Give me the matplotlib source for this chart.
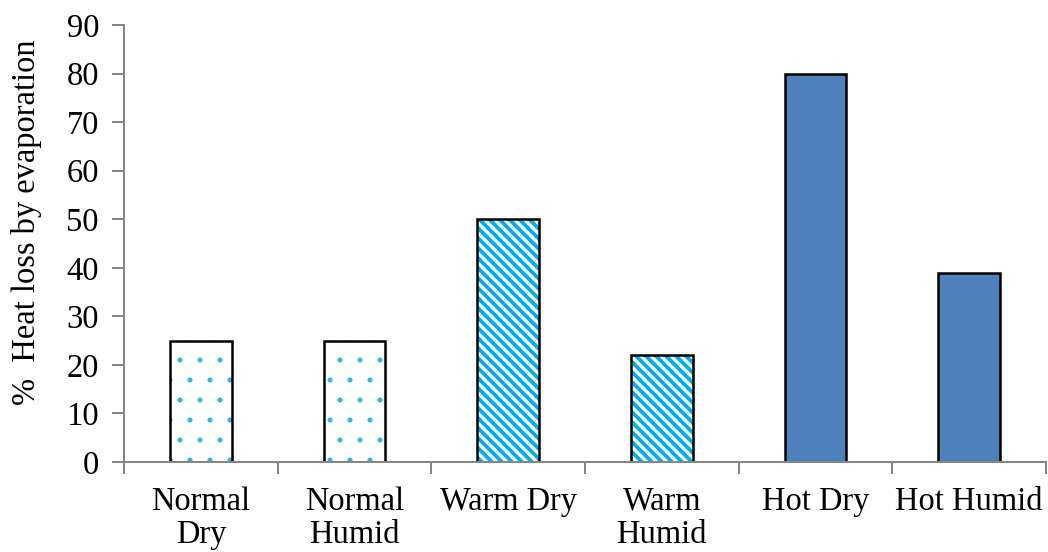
import matplotlib.pyplot as plt
import numpy as np

# values
categories = ['Normal\nDry', 'Normal\nHumid', 'Warm Dry', 'Warm\nHumid', 'Hot Dry', 'Hot Humid']
heat_loss = [25, 25, 50, 22, 80, 39]
patterns = ['.', '.', '\\\\\\\\', '\\\\\\\\', '', '']

plt.rcParams['font.family'] = ['Liberation Serif', 'DejaVu Serif']

# dpi 120 so the hatch cell matches the stripe/dot spacing of the original
fig = plt.figure(figsize=(1048 / 120, 552 / 120), dpi=120)
ax = fig.add_axes([124 / 1048, 1 - 462 / 552, (1046 - 124) / 1048, (462 - 25) / 552])

x = np.arange(len(categories))
width = 0.4
for xi, val, pat in zip(x, heat_loss, patterns):
    if pat == '.':
        with plt.rc_context({'hatch.linewidth': 0.6}):
            ax.bar(xi, val, width, color='white', edgecolor='#29B6F0', hatch=pat, linewidth=0)
    elif pat:
        with plt.rc_context({'hatch.linewidth': 2.3}):
            ax.bar(xi, val, width, color='white', edgecolor='#00AEEF', hatch=pat, linewidth=0)
    else:
        ax.bar(xi, val, width, color='#4F81BD', linewidth=0)
# black outline on top of every bar
ax.bar(x, heat_loss, width, facecolor='none', edgecolor='black', linewidth=1.5)

ax.set_xlim(-0.5, len(categories) - 0.5)
ax.set_ylim(0, 90)
ax.set_yticks(range(0, 91, 10))

# category labels in the middle, tick marks on the boundaries
ax.set_xticks(x)
ax.set_xticklabels(categories, fontsize=19.5, linespacing=1.1)
ax.tick_params(axis='x', which='major', length=0, pad=14.5)
ax.set_xticks(np.arange(-0.5, len(categories), 1), minor=True)
ax.tick_params(axis='x', which='minor', length=7, color='#868686', width=1.2)
ax.tick_params(axis='y', labelsize=19.5, length=7, color='#868686', width=1.2, pad=8)

for side in ['top', 'right']:
    ax.spines[side].set_visible(False)
for side in ['left', 'bottom']:
    ax.spines[side].set_color('#868686')
    ax.spines[side].set_linewidth(1.2)

fig.text(27 / 1048, 1 - 222 / 552, '%  Heat loss by evaporation', rotation=90,
         fontsize=19.5, ha='center', va='center')

fig.savefig('out.png', dpi=120)
